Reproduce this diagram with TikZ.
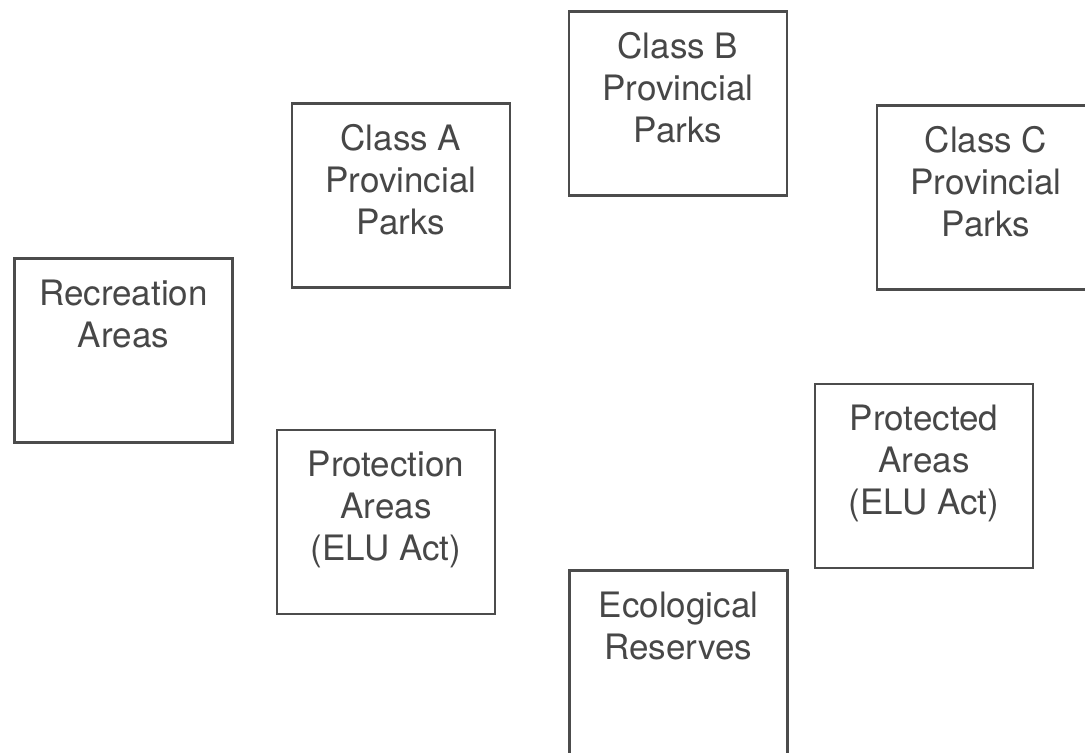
\documentclass[tikz,border=0pt]{standalone}
\usepackage{fontspec}
\setmainfont{TeX Gyre Heros}
\usepackage{tikz}
\usetikzlibrary{positioning}

\tikzset{
  area/.style={draw=black!70, line width=1.3pt, minimum width=109pt, minimum height=92pt, inner sep=0pt},
  lbl/.style={anchor=north, yshift=-11pt, inner sep=0pt, align=center, text=black!72,
    font=\fontsize{17.5}{21}\selectfont}
}

\begin{document}
\begin{tikzpicture}[x=0.5pt,y=0.5pt]
            \clip (0,0) rectangle (1085,752);
            \fill[white] (0,0) rectangle (1085,752);
            \node[area, label={[lbl]north:Class A\\Provincial\\Parks}] (classA) at (401,556.5) {};
            \node[area, label={[lbl]north:Class B\\Provincial\\Parks}] (classB) at (678,648.5) {};
            \node[area, label={[lbl]north:Class C\\Provincial\\Parks}] (classC) at (986,554.5) {};
            \node[area, label={[lbl]north:Recreation\\Areas}] (recr) at (123.5,401.5) {};
            \node[area, label={[lbl]north:Protection\\Areas\\(ELU Act)}] (protn) at (386,230) {};
            \node[area, label={[lbl]north:Protected\\Areas\\(ELU Act)}] (protd) at (924,276) {};
            \node[area, label={[lbl]north:Ecological\\Reserves}] (ecol) at (678.5,89.5) {};
        \end{tikzpicture}
\end{document}
